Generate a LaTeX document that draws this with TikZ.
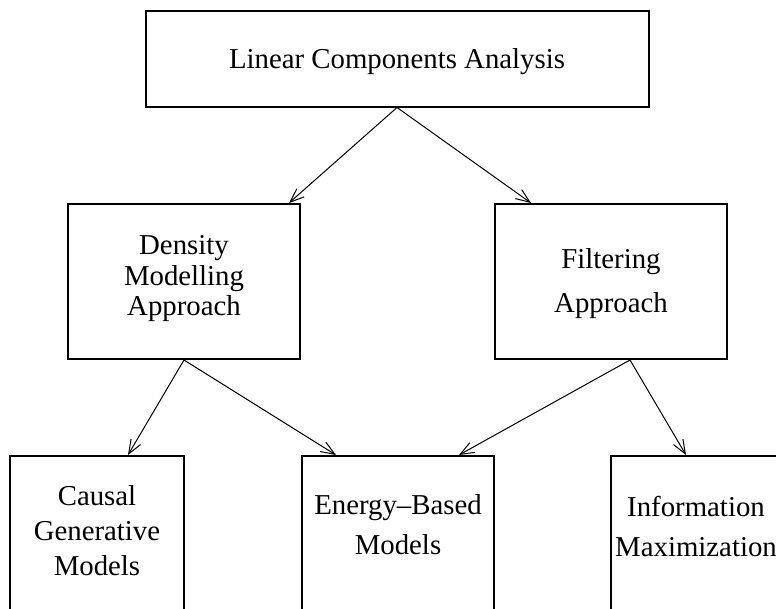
\documentclass[tikz,border=0pt]{standalone}
\usepackage{fontspec}
\setmainfont{Liberation Serif}
\usetikzlibrary{arrows.meta}
\tikzset{
  box/.style={draw, line width=2pt, inner sep=0pt},
  lbl/.style={align=center, inner sep=0pt, font=\fontsize{28.8}{#1}\selectfont},
  conn/.style={-{Straight Barb[length=14pt,width=11pt]}, line width=1pt}
}
\begin{document}
\begin{tikzpicture}[x=1pt,y=-1pt]
		\clip (0,0) rectangle (776,608);
		
		\node [box, minimum width=503, minimum height=96] (top) at (397,58.5) {};
		\node [lbl=30] (topT) at (397,62) {Linear Components Analysis};
		
		\node [box, minimum width=232, minimum height=155] (dens) at (184,281.5) {};
		\node [lbl=30.5] (densT) at (184,279) {Density\\Modelling\\Approach};
		\node [box, minimum width=232, minimum height=155] (filt) at (611,281.5) {};
		\node [lbl=44] (filtT) at (611,284) {Filtering\\Approach};
		
		\node [box, minimum width=174, minimum height=204] (caus) at (97,558) {};
		\node [lbl=35] (causT) at (97,530.5) {Causal\\Generative\\Models};
		\node [box, minimum width=192, minimum height=204] (ener) at (398,558) {};
		\node [lbl=40] (enerT) at (398,525) {Energy--Based\\Models};
		\node [box, minimum width=174, minimum height=204] (info) at (698,558) {};
		\node [lbl=40] (infoT) at (696,526) {Information\\Maximization};
		
		\draw [conn] (top.south) -- ([xshift=-12pt]dens.north east);
		\draw [conn] (top.south) -- ([xshift=37pt]filt.north west);
		\draw [conn] (dens.south) -- ([xshift=31pt]caus.north);
		\draw [conn] (dens.south) -- ([xshift=35pt]ener.north west);
		\draw [conn] ([xshift=19pt]filt.south) -- ([xshift=-36pt]ener.north east);
		\draw [conn] ([xshift=19pt]filt.south) -- ([xshift=76pt]info.north west);
\end{tikzpicture}
\end{document}
